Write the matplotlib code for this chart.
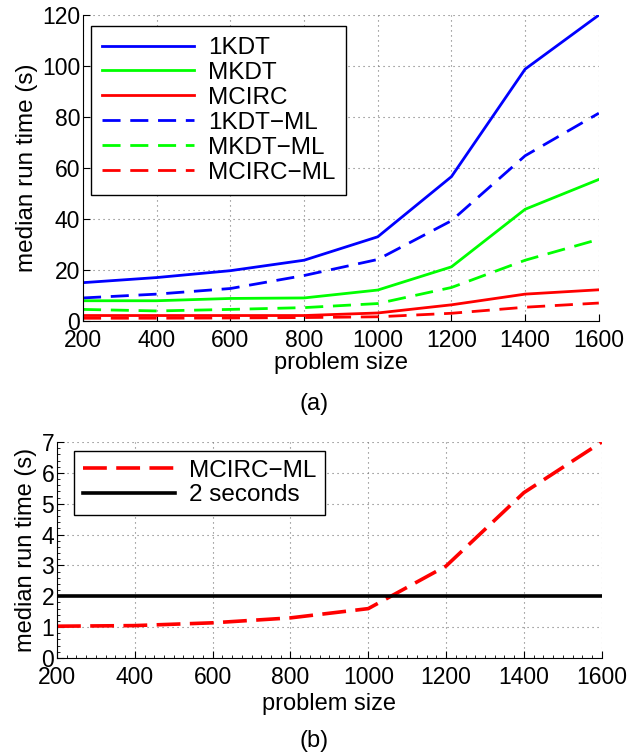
import matplotlib
matplotlib.use("Agg")
import matplotlib.pyplot as plt
from matplotlib.ticker import MultipleLocator

plt.rcParams['font.family'] = ['Liberation Sans', 'DejaVu Sans']

# problem sizes and median run times (s)
sizes = [200, 400, 600, 800, 1000, 1200, 1400, 1600]
t_1kdt = [15.0, 17.0, 19.7, 23.8, 33.0, 56.6, 98.8, 120.0]
t_mkdt = [7.9, 7.9, 8.8, 9.0, 12.1, 21.2, 43.8, 55.5]
t_mcirc = [2.1, 2.1, 2.1, 2.1, 3.1, 6.3, 10.5, 12.2]
t_1kdt_ml = [9.0, 10.5, 12.7, 17.8, 24.1, 39.3, 64.8, 81.5]
t_mkdt_ml = [4.5, 3.9, 4.5, 5.2, 6.8, 13.1, 23.8, 32.0]
t_mcirc_ml = [1.03, 1.05, 1.14, 1.30, 1.60, 2.98, 5.36, 7.0]
threshold = 2

BLUE = (0, 0, 1)
GREEN = (0, 1, 0)
RED = (1, 0, 0)


def style_axes(ax, fs=16.5):
    ax.spines['top'].set_visible(False)
    ax.spines['right'].set_visible(False)
    ax.grid(True, color='0.45', linestyle=(0, (1, 3.5)), linewidth=0.8)
    ax.tick_params(direction='in', length=5, width=0.8, labelsize=fs)
    ax.tick_params(axis='x', pad=6)
    ax.tick_params(axis='y', pad=2)
    ax.tick_params(which='minor', direction='in', length=2.5, width=0.6)
    for s in ax.spines.values():
        s.set_linewidth(0.8)


fig = plt.figure(figsize=(6.29, 7.55), dpi=100)

# (a) all six methods
ax1 = fig.add_axes([0.132, 0.575, 0.820, 0.405])
lw = 2.0
ax1.plot(sizes, t_1kdt, color=BLUE, lw=lw, label='1KDT')
ax1.plot(sizes, t_mkdt, color=GREEN, lw=lw, label='MKDT')
ax1.plot(sizes, t_mcirc, color=RED, lw=lw, label='MCIRC')
ax1.plot(sizes, t_1kdt_ml, color=BLUE, lw=lw, dashes=(6.5, 3.5), label='1KDT\u2212ML')
ax1.plot(sizes, t_mkdt_ml, color=GREEN, lw=lw, dashes=(6.5, 3.5), label='MKDT\u2212ML')
ax1.plot(sizes, t_mcirc_ml, color=RED, lw=lw, dashes=(6.5, 3.5), label='MCIRC\u2212ML')
ax1.set_xlim(200, 1600)
ax1.set_ylim(0, 120)
ax1.set_xticks(sizes)
ax1.set_yticks(range(0, 121, 20))
style_axes(ax1)
ax1.set_xlabel('problem size', fontsize=17, labelpad=0)
ax1.set_ylabel('median run time (s)', fontsize=17.5, labelpad=3)
leg1 = ax1.legend(loc='upper left', bbox_to_anchor=(0.0155, 0.964), borderaxespad=0,
                  fontsize=17.5, handlelength=3.8, handletextpad=0.55, labelspacing=0.12,
                  borderpad=0.45, fancybox=False, framealpha=1, edgecolor='black')
leg1.get_frame().set_linewidth(1.0)

# (b) MCIRC-ML against the 2 second line
ax2 = fig.add_axes([0.0906, 0.1285, 0.866, 0.286])
ax2.plot(sizes, t_mcirc_ml, color=RED, lw=2.6, dashes=(6.6, 2.6), label='MCIRC\u2212ML')
ax2.axhline(threshold, color='black', lw=2.6, label='2 seconds')
ax2.set_xlim(200, 1600)
ax2.set_ylim(0, 7)
ax2.set_xticks(sizes)
ax2.set_yticks(range(0, 8))
ax2.xaxis.set_minor_locator(MultipleLocator(25))
ax2.yaxis.set_minor_locator(MultipleLocator(0.2))
style_axes(ax2, fs=16.5)
ax2.set_xlabel('problem size', fontsize=17, labelpad=3)
ax2.set_ylabel('median run time (s)', fontsize=17, labelpad=3)
leg2 = ax2.legend(loc='upper left', bbox_to_anchor=(0.032, 0.958), borderaxespad=0,
                  fontsize=17.5, handlelength=3.8, handletextpad=0.55, labelspacing=0.1,
                  borderpad=0.35, fancybox=False, framealpha=1, edgecolor='black')
leg2.get_frame().set_linewidth(1.0)

fig.text(0.5, 1 - 404 / 755, '(a)', ha='center', va='center', fontsize=17)
fig.text(0.5, 1 - 741 / 755, '(b)', ha='center', va='center', fontsize=17)

fig.savefig('out.png', dpi=100)
